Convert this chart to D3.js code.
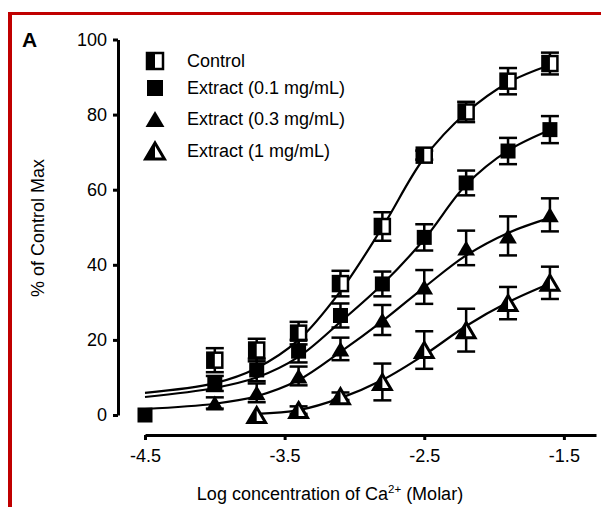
<!DOCTYPE html>
<html>
<head>
<meta charset="utf-8">
<script src="https://cdn.jsdelivr.net/npm/d3@7"></script>
<style>
  body { margin: 0; background: #fff; }
  svg { display: block; font-family: Arial, "Liberation Sans", sans-serif; }
</style>
</head>
<body>
<svg width="601" height="507"></svg>
<script>
// tick labels
const xTicks = [-4.5, -3.5, -2.5, -1.5];
const yTicks = [0, 20, 40, 60, 80, 100];

const seriesNames = ['Control', 'Extract (0.1 mg/mL)', 'Extract (0.3 mg/mL)', 'Extract (1 mg/mL)'];

// log [Ca2+] of the data points
const logCa = [-4.0, -3.7, -3.4, -3.1, -2.8, -2.5, -2.2, -1.9, -1.6];
const logCa01 = [-4.5, -4.0, -3.7, -3.4, -3.1, -2.8, -2.5, -2.2, -1.9, -1.6];
const logCa1 = [-3.7, -3.4, -3.1, -2.8, -2.5, -2.2, -1.9, -1.6];

// means and SEM
const controlVals = [14.6, 17.3, 21.8, 35.0, 50.2, 69.2, 80.7, 88.9, 93.6];
const controlErr = [3.2, 3.0, 3.0, 3.4, 3.8, 1.2, 2.7, 3.5, 2.9];
const ext01Vals = [0, 8.4, 12.0, 17.0, 26.5, 34.9, 47.3, 61.8, 70.3, 76.0];
const ext01Err = [0, 2.0, 3.0, 3.0, 3.2, 3.3, 3.5, 3.3, 3.5, 3.6];
const ext03Vals = [3.2, 5.9, 10.4, 17.6, 25.3, 34.1, 44.5, 47.7, 53.3];
const ext03Err = [1.5, 2.5, 2.5, 3.0, 4.0, 4.5, 4.6, 5.2, 4.4];
const ext1Vals = [0, 1.3, 5.0, 8.8, 17.3, 22.6, 29.8, 35.2];
const ext1Err = [0, 1.0, 1.0, 4.9, 5.0, 5.7, 4.3, 4.3];

// fitted curves
const fitX = [-4.5, -4.0, -3.7, -3.4, -3.1, -2.8, -2.5, -2.2, -1.9, -1.6];
const controlFit = [5.9, 8.5, 12.5, 20.0, 33.0, 50.0, 68.5, 80.5, 88.5, 93.2];
const ext01Fit = [4.8, 7.2, 10.0, 15.5, 24.8, 34.8, 46.8, 61.3, 70.4, 75.9];
const ext03Fit = [1.6, 3.0, 5.0, 9.3, 16.8, 25.0, 34.0, 42.5, 48.5, 52.5];
const fitX1 = [-3.7, -3.4, -3.1, -2.8, -2.5, -2.2, -1.9, -1.6];
const ext1Fit = [0.3, 1.3, 4.5, 9.3, 16.0, 23.7, 30.0, 35.0];

const svg = d3.select('svg');
const red = '#c00000';
const fontSize = 18;

// frame
svg.append('line').attr('x1', 8).attr('x2', 601).attr('y1', 13.5).attr('y2', 13.5)
  .attr('stroke', red).attr('stroke-width', 3);
svg.append('line').attr('x1', 10).attr('x2', 10).attr('y1', 12).attr('y2', 507)
  .attr('stroke', red).attr('stroke-width', 4);

const x = d3.scaleLinear().domain([-4.5, -1.27]).range([145, 596]);
const y = d3.scaleLinear().domain([0, 100]).range([415, 39.5]);

// axes
const xAxis = svg.append('g').attr('transform', 'translate(0,435)')
  .call(d3.axisBottom(x).tickValues(xTicks).tickFormat(d => d.toFixed(1)).tickSize(5).tickSizeOuter(0));
const yAxis = svg.append('g').attr('transform', 'translate(118,0)')
  .call(d3.axisLeft(y).tickValues(yTicks).tickSize(5).tickSizeOuter(0));

[xAxis, yAxis].forEach(a => {
  a.select('.domain').attr('stroke-width', 3);
  a.selectAll('.tick line').attr('stroke-width', 3);
  a.selectAll('.tick text').attr('font-size', fontSize).attr('fill', '#000')
    .attr('font-family', 'Arial, "Liberation Sans", sans-serif');
});
xAxis.selectAll('.tick text').attr('y', 14);
yAxis.selectAll('.tick text').attr('x', -11);

// labels
svg.append('text').attr('x', 22).attr('y', 47).attr('font-size', 21).attr('font-weight', 'bold').text('A');
svg.append('text').attr('transform', 'translate(44,228) rotate(-90)').attr('text-anchor', 'middle')
  .attr('font-size', fontSize).text('% of Control Max');
const xl = svg.append('text').attr('x', 330).attr('y', 500).attr('text-anchor', 'middle').attr('font-size', fontSize);
xl.append('tspan').text('Log concentration of Ca');
xl.append('tspan').attr('font-size', 11.5).attr('dy', -7).text('2+');
xl.append('tspan').attr('dy', 7).text(' (Molar)');

// curves
const line = d3.line().x(d => x(d[0])).y(d => y(d[1])).curve(d3.curveCatmullRom);
const fits = [
  d3.zip(fitX, controlFit),
  d3.zip(fitX, ext01Fit),
  d3.zip(fitX, ext03Fit),
  d3.zip(fitX1, ext1Fit)
];
svg.selectAll('path.fit').data(fits).enter().append('path')
  .attr('class', 'fit')
  .attr('d', line)
  .attr('fill', 'none').attr('stroke', '#000').attr('stroke-width', 2.2);

// markers
const drawMarker = (g, type, s) => {
  if (type === 'halfsquare') {
    g.append('rect').attr('x', -s / 2).attr('y', -s / 2).attr('width', s).attr('height', s)
      .attr('fill', '#fff').attr('stroke', '#000').attr('stroke-width', 2.5);
    g.append('rect').attr('x', -s / 2).attr('y', -s / 2).attr('width', s / 2).attr('height', s).attr('fill', '#000');
  } else if (type === 'square') {
    g.append('rect').attr('x', -s / 2).attr('y', -s / 2).attr('width', s).attr('height', s).attr('fill', '#000');
  } else {
    const w = s * 1.18, h = s;
    const tri = `M0,${-h / 2}L${w / 2},${h / 2}L${-w / 2},${h / 2}Z`;
    if (type === 'triangle') {
      g.append('path').attr('d', tri).attr('fill', '#000');
    } else {
      g.append('path').attr('d', tri).attr('fill', '#fff').attr('stroke', '#000')
        .attr('stroke-width', 3).attr('stroke-linejoin', 'miter');
      g.append('path').attr('d', `M0,${-h / 2}L0,${h / 2}L${-w / 2},${h / 2}Z`).attr('fill', '#000');
    }
  }
};

const series = [
  { xs: logCa, vals: controlVals, err: controlErr, type: 'halfsquare' },
  { xs: logCa01, vals: ext01Vals, err: ext01Err, type: 'square' },
  { xs: logCa, vals: ext03Vals, err: ext03Err, type: 'triangle' },
  { xs: logCa1, vals: ext1Vals, err: ext1Err, type: 'opentriangle' }
];

series.forEach(s => {
  const pts = s.xs.map((v, i) => ({ x: v, y: s.vals[i], e: s.err[i] }));
  const g = svg.append('g');
  // error bars
  pts.filter(p => p.e > 0).forEach(p => {
    const eb = g.append('g').attr('stroke', '#000').attr('stroke-width', 2.5);
    eb.append('line').attr('x1', x(p.x)).attr('x2', x(p.x)).attr('y1', y(p.y - p.e)).attr('y2', y(p.y + p.e));
    [p.y - p.e, p.y + p.e].forEach(v => {
      eb.append('line').attr('x1', x(p.x) - 9).attr('x2', x(p.x) + 9).attr('y1', y(v)).attr('y2', y(v));
    });
  });
  pts.forEach(p => {
    const m = g.append('g').attr('transform', `translate(${x(p.x)},${y(p.y)})`);
    drawMarker(m, s.type, 15);
  });
});

// legend
const legendY = [61, 88, 119, 151];
seriesNames.forEach((name, i) => {
  const m = svg.append('g').attr('transform', `translate(155,${legendY[i]})`);
  drawMarker(m, series[i].type, 16);
  svg.append('text').attr('x', 187).attr('y', legendY[i]).attr('dy', '0.36em')
    .attr('font-size', fontSize).text(name);
});
</script>
</body>
</html>
